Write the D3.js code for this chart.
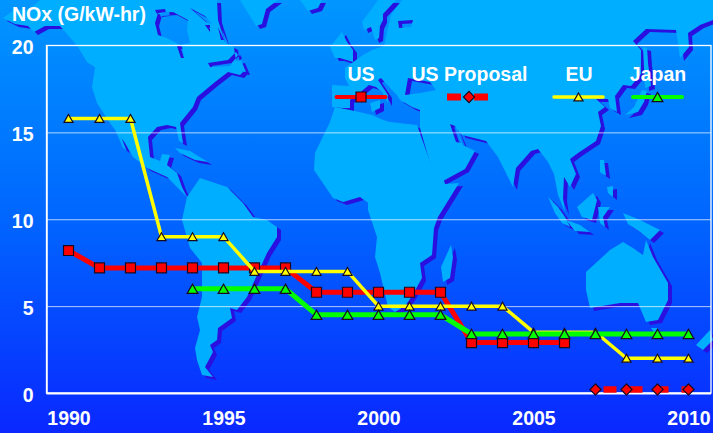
<!DOCTYPE html>
<html>
<head>
<meta charset="utf-8">
<script src="https://cdn.jsdelivr.net/npm/d3@7"></script>
<style>
  html, body { margin: 0; padding: 0; background: #0a28ff; }
  svg { display: block; }
  text { font-family: "Liberation Sans", Arial, sans-serif; font-weight: bold; fill: #fff; }
</style>
</head>
<body>
<svg id="chart" width="713" height="433"></svg>
<script>
// NOx emission limits by year and region
const years = d3.range(1990, 2011);
const yTicks = [0, 5, 10, 15, 20];
const xTicks = [1990, 1995, 2000, 2005, 2010];

const usYears = [1990, 1991, 1992, 1993, 1994, 1995, 1996, 1997, 1998, 1999, 2000, 2001, 2002, 2003, 2004, 2005, 2006];
const usValues = [8.2, 7.2, 7.2, 7.2, 7.2, 7.2, 7.2, 7.2, 5.8, 5.8, 5.8, 5.8, 5.8, 2.9, 2.9, 2.9, 2.9];

const proposalYears = [2007, 2008, 2009, 2010];
const proposalValues = [0.2, 0.2, 0.2, 0.2];

const euYears = years;
const euValues = [15.8, 15.8, 15.8, 9, 9, 9, 7, 7, 7, 7, 5, 5, 5, 5, 5, 3.5, 3.5, 3.5, 2, 2, 2];

const japanYears = [1994, 1995, 1996, 1997, 1998, 1999, 2000, 2001, 2002, 2003, 2004, 2005, 2006, 2007, 2008, 2009, 2010];
const japanValues = [6, 6, 6, 6, 4.5, 4.5, 4.5, 4.5, 4.5, 3.4, 3.4, 3.4, 3.4, 3.4, 3.4, 3.4, 3.4];

// Backdrop world map: each landmass is a list of rings, later rings cut out seas and bays
const northAmerica = [
  [[3,18],[14,10],[28,10],[40,0],[217,0],[218,20],[225,42],[234,47],[235,55],[237,65],[243,72],[240,75],[228,72],[215,82],[197,97],[193,107],[180,123],[181,130],[183,143],[179,141],[176,127],[167,125],[157,127],[148,137],[150,157],[160,161],[162,154],[170,155],[167,165],[177,173],[182,187],[187,197],[167,177],[147,168],[133,157],[125,143],[110,123],[97,103],[92,87],[95,68],[87,62],[78,47],[68,35],[60,26],[45,26],[34,32],[28,26],[15,24]],
  [[158,13],[173,12],[188,20],[187,30],[190,43],[180,45],[167,38],[158,35],[155,23]],
  [[177,46],[182,46],[184,58],[181,58]],
  [[190,8],[205,16],[212,24],[206,22]],
  [[205,25],[210,25],[210,32]],
  [[218,27],[224,40],[221,40]],
  [[155,10],[165,9],[166,13],[157,14]],
  [[208,63],[228,60],[236,52],[238,55],[230,66],[210,67]]
];
const greenland = [[[240,0],[256,26],[262,24],[266,9],[278,0]]];
const iceland = [[[300,0],[322,0],[318,8],[308,11]]];
const bajaCalifornia = [[[112,122],[115,122],[126,150],[123,148]]];
const cuba = [[[175,148],[190,151],[208,162],[195,160],[180,153]]];
const newfoundland = [[[232,62],[241,60],[246,72],[236,71]]];
const southAmerica = [[[187,197],[200,178],[227,187],[243,203],[253,217],[267,220],[277,227],[277,237],[267,253],[258,273],[247,297],[237,310],[230,308],[232,318],[218,328],[217,340],[210,345],[213,352],[205,367],[213,377],[202,375],[197,360],[195,348],[200,330],[197,317],[202,297],[202,263],[190,248],[182,220]]];
const africa = [[[335,107],[350,110],[372,115],[383,120],[390,122],[417,125],[433,170],[443,177],[445,184],[459,183],[438,217],[434,228],[432,255],[420,263],[422,278],[412,296],[405,306],[395,312],[388,307],[380,273],[375,257],[377,237],[368,210],[368,203],[360,197],[343,202],[333,198],[314,170],[315,153],[330,122]]];
const madagascar = [[[441,267],[451,245],[453,257],[450,278],[443,282]]];
const eurasia = [
  [[332,85],[349,86],[345,78],[345,68],[363,55],[372,50],[384,46],[388,28],[391,15],[402,0],[713,0],[713,20],[700,25],[688,33],[689,47],[680,58],[676,30],[646,29],[633,41],[641,50],[641,74],[631,86],[623,85],[615,96],[617,112],[610,108],[608,99],[596,99],[605,107],[598,112],[601,126],[596,141],[578,153],[570,159],[576,174],[570,187],[564,177],[563,198],[565,212],[558,195],[554,174],[548,162],[538,149],[531,151],[516,168],[513,187],[498,157],[486,141],[462,135],[456,128],[463,145],[475,151],[465,169],[443,181],[440,177],[432,170],[420,128],[420,110],[412,107],[400,100],[397,95],[392,90],[381,78],[378,80],[388,95],[388,103],[382,92],[376,87],[369,85],[363,90],[350,100],[350,108],[342,108],[332,107]],
  [[408,78],[430,82],[436,90],[420,93],[405,95]],
  [[398,21],[413,20],[411,27],[399,28]],
  [[450,124],[455,126],[461,143],[456,142]]
];
const scandinavia = [[[378,0],[362,22],[364,30],[371,27],[375,40],[379,38],[380,26],[383,20],[383,14],[396,0]]];
const britain = [[[330,47],[342,32],[347,42],[353,50],[353,62],[340,58],[335,58]]];
const sicily = [[[370,103],[380,100],[380,108],[372,112]]];
const novayaZemlya = [[[418,0],[428,0],[422,5]]];
const sakhalin = [[[643,47],[645,88],[651,86],[648,63],[647,48]]];
const japan = [[[625,115],[638,112],[644,102],[647,91],[642,90],[634,107]]];
const taiwan = [[[600,160],[604,160],[606,176],[600,172]]];
const philippines = [[[607,187],[613,186],[613,197],[608,193]]];
const borneo = [[[577,207],[593,193],[597,200],[592,220],[582,217]]];
const sumatra = [[[548,197],[558,207],[565,217],[570,227],[562,223],[555,213]]];
const java = [[[566,220],[580,225],[590,232],[575,231]]];
const sulawesi = [[[598,207],[610,207],[603,217],[605,227],[600,223]]];
const newGuinea = [[[623,213],[640,220],[660,230],[650,240],[640,232],[628,224]]];
const australia = [[[586,272],[610,250],[623,242],[633,248],[643,255],[646,240],[653,257],[668,283],[668,300],[658,320],[646,322],[638,303],[620,303],[590,308],[586,290]]];
const tasmania = [[[651,328],[658,328],[656,335]]];
const newZealand = [[[696,345],[710,330],[713,340],[703,350]]];
const landmasses = [northAmerica, greenland, iceland, bajaCalifornia, cuba, newfoundland, southAmerica, africa, madagascar, eurasia, scandinavia, britain, sicily, novayaZemlya, sakhalin, japan, taiwan, philippines, borneo, sumatra, java, sulawesi, newGuinea, australia, tasmania, newZealand];

const width = 713, height = 433;
const plot = { left: 46.5, right: 711, top: 45.5, bottom: 393 };
const fontSize = 19.5;

const svg = d3.select("#chart");

const x = d3.scaleLinear().domain([1990, 2010]).range([68.5, 688.5]);
const y = d3.scaleLinear().domain([0, 20]).range([plot.bottom, plot.top]);

// Sky-to-deep-blue page background
const defs = svg.append("defs");
const bg = defs.append("linearGradient").attr("id", "bg").attr("x1", 0).attr("y1", 0).attr("x2", 0).attr("y2", 1);
[[0, "#0096ff"], [0.5, "#0066ff"], [1, "#0a28ff"]].forEach(([o, c]) => bg.append("stop").attr("offset", o).attr("stop-color", c));
svg.append("rect").attr("width", width).attr("height", height).attr("fill", "url(#bg)");

// Map with a drop shadow cast to the lower right of every coast
const ringPath = d3.line().curve(d3.curveLinearClosed);
const shapePath = rings => rings.map(r => ringPath(r)).join("");
const map = svg.append("g");
map.append("g").attr("transform", "translate(4,3)").selectAll("path").data(landmasses).join("path")
  .attr("d", shapePath).attr("fill", "#2a10e0").attr("fill-rule", "evenodd");
map.append("g").selectAll("path").data(landmasses).join("path")
  .attr("d", shapePath).attr("fill", "#00aeff").attr("fill-rule", "evenodd");

// Frame and gridlines
svg.append("rect")
  .attr("x", plot.left).attr("y", plot.top)
  .attr("width", plot.right - plot.left).attr("height", plot.bottom - plot.top)
  .attr("fill", "none").attr("stroke", "#fff").attr("stroke-width", 1.3);

const yAxis = svg.append("g").attr("transform", `translate(${plot.left},0)`)
  .call(d3.axisLeft(y).tickValues(yTicks).tickSize(0).tickPadding(13));
yAxis.select(".domain").attr("stroke", "#fff").attr("stroke-width", 1.5);
yAxis.selectAll(".tick text").attr("font-size", fontSize).attr("dy", "0.42em").style("fill", "#fff");
yAxis.selectAll(".tick").filter(d => d > 0 && d < 20).append("line")
  .attr("x2", plot.right - plot.left).attr("stroke", "#fff").attr("stroke-opacity", 0.7).attr("stroke-width", 1);
yAxis.selectAll(".tick").filter(d => d === 0).append("line")
  .attr("x2", plot.right - plot.left).attr("stroke", "#fff").attr("stroke-width", 2);

const xAxis = svg.append("g").attr("transform", `translate(0,${plot.bottom})`)
  .call(d3.axisBottom(x).tickValues(xTicks).tickFormat(d3.format("d")).tickSize(0).tickPadding(18));
xAxis.select(".domain").remove();
xAxis.selectAll(".tick text").attr("font-size", fontSize).style("fill", "#fff");

// Symbol generators for each series; triangles are shifted so their box centres on the point
const triangleUp = size => {
  const path = d3.symbol(d3.symbolTriangle, size)();
  const w = Math.sqrt(size * 4 / Math.sqrt(3));
  return { path, lift: w * Math.sqrt(3) / 12 };
};
const symbols = {
  square: () => ({ path: d3.symbol(d3.symbolSquare, 100)(), lift: 0 }),
  diamond: () => ({ path: d3.symbol(d3.symbolSquare, 62)(), lift: 0, rotate: 45 }),
  small: () => triangleUp(36),
  large: () => triangleUp(50)
};

const seriesList = [
  { name: "US Proposal", xs: proposalYears, ys: proposalValues, color: "#ff0000", width: 6.5, dash: "13 13", offset: 18, symbol: "diamond", legendX: 469, legendDash: "14 13 14", legendWidth: 7 },
  { name: "US", xs: usYears, ys: usValues, color: "#ff0000", width: 5, symbol: "square", legendX: 361, legendWidth: 4 },
  { name: "EU", xs: euYears, ys: euValues, color: "#ffff00", width: 3.5, symbol: "small", legendX: 578.5, legendWidth: 3.5 },
  { name: "Japan", xs: japanYears, ys: japanValues, color: "#00ff00", width: 5, symbol: "large", legendX: 657.5, legendWidth: 4 }
];

const drawSymbol = (sel, s, px, py) => {
  const g = symbols[s.symbol]();
  sel.append("path").attr("d", g.path)
    .attr("transform", `translate(${px},${py + g.lift})` + (g.rotate ? ` rotate(${g.rotate})` : ""))
    .attr("fill", s.color).attr("stroke", "#1a0a20").attr("stroke-width", 1.2);
};

const line = d3.line();
seriesList.forEach(s => {
  const pts = s.xs.map((yr, i) => [x(yr), y(s.ys[i])]);
  const g = svg.append("g").attr("class", "series");
  g.append("path").attr("d", line(pts)).attr("fill", "none")
    .attr("stroke", s.color).attr("stroke-width", s.width)
    .attr("stroke-dasharray", s.dash || null).attr("stroke-dashoffset", s.offset || null);
  pts.forEach(p => drawSymbol(g, s, p[0], p[1]));
});

// Legend across the top of the plot
const legendY = 97, legendTextY = 81, legendHalf = 24.5;
const labelX = { "US": 361, "US Proposal": 469.5, "EU": 579, "Japan": 658 };
seriesList.forEach(s => {
  const g = svg.append("g").attr("class", "legend");
  g.append("text").attr("x", labelX[s.name]).attr("y", legendTextY)
    .attr("text-anchor", "middle").attr("font-size", fontSize).text(s.name);
  const half = s.legendDash ? 20.5 : legendHalf;
  g.append("line")
    .attr("x1", s.legendX - half - (s.legendDash ? 1.5 : 0)).attr("x2", s.legendX + half)
    .attr("y1", legendY).attr("y2", legendY)
    .attr("stroke", s.color).attr("stroke-width", s.legendWidth)
    .attr("stroke-linecap", s.legendDash ? "butt" : "round")
    .attr("stroke-dasharray", s.legendDash || null);
  drawSymbol(g, s, s.legendX, legendY);
});

// Axis title
svg.append("text").attr("x", 12).attr("y", 21).attr("font-size", fontSize).text("NOx (G/kW-hr)");
</script>
</body>
</html>
